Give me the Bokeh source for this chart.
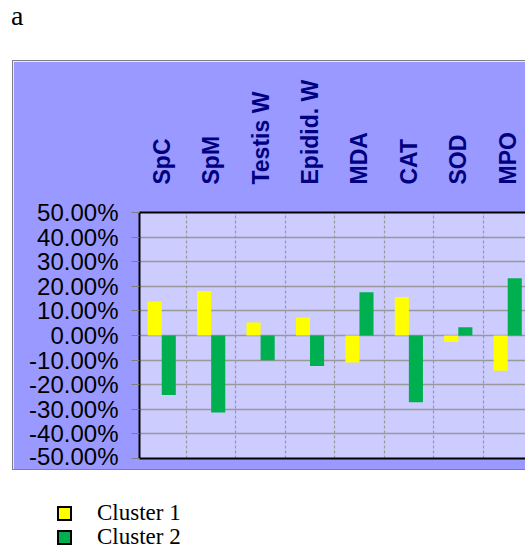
import math
from bokeh.plotting import figure
from bokeh.models import (ColumnDataSource, Range1d, LinearAxis, FixedTicker,
                          NumeralTickFormatter, Div)
from bokeh.transform import dodge
from bokeh.layouts import column
from bokeh.embed import file_html
from bokeh.resources import INLINE

# ---------------- data ----------------
categories = ["SpC", "SpM", "Testis W", "Epidid.  W", "MDA", "CAT", "SOD", "MPO"]
cluster1 = [0.137, 0.181, 0.053, 0.072, -0.110, 0.156, -0.026, -0.143]
cluster2 = [-0.242, -0.313, -0.101, -0.124, 0.176, -0.271, 0.034, 0.233]
series_names = ["Cluster 1", "Cluster 2"]
series_colors = ["#FFFF00", "#00B050"]
y_ticks = [-0.5, -0.4, -0.3, -0.2, -0.1, 0.0, 0.1, 0.2, 0.3, 0.4, 0.5]
panel_label = "a"

n = len(categories)
centers = [i + 0.5 for i in range(n)]
src = ColumnDataSource(dict(x=centers, c1=cluster1, c2=cluster2))

# ---------------- main figure ----------------
p = figure(width=513, height=410, output_backend="svg", toolbar_location=None,
           x_range=Range1d(0.05, 7.88), y_range=Range1d(-0.5, 0.5),
           x_axis_location="above",
           min_border_left=126, min_border_right=0, min_border_top=151,
           min_border_bottom=13)
p.margin = (0, 0, 0, 12)
p.styles = {"border-left": "1px solid #808080",
            "border-top": "1px solid #808080",
            "border-bottom": "1px solid #808080"}
p.background_fill_color = "#CCCCFF"
p.border_fill_color = "#9999FF"
p.outline_line_color = None

bw = 0.285
p.vbar(x=dodge("x", -bw / 2, range=p.x_range), top="c1", bottom=0, width=bw,
       source=src, fill_color=series_colors[0], line_color=None)
p.vbar(x=dodge("x", bw / 2, range=p.x_range), top="c2", bottom=0, width=bw,
       source=src, fill_color=series_colors[1], line_color=None)

# top axis with category names
xa = p.xaxis[0]
xa.ticker = FixedTicker(ticks=centers)
xa.major_label_overrides = {c: name for c, name in zip(centers, categories)}
xa.major_label_orientation = math.pi / 2
xa.major_label_text_font = "Liberation Sans"
xa.major_label_text_font_style = "bold"
xa.major_label_text_font_size = "23px"
xa.major_label_text_color = "#000080"
xa.major_label_standoff = 22
xa.major_tick_line_color = None
xa.minor_tick_line_color = None
xa.axis_line_color = "black"
xa.axis_line_width = 2

# bottom border axis
bottom_axis = LinearAxis(ticker=FixedTicker(ticks=[]), axis_line_color="black",
                         axis_line_width=2, major_tick_line_color=None,
                         minor_tick_line_color=None,
                         major_label_text_font_size="0px")
p.add_layout(bottom_axis, "below")

# left axis
ya = p.yaxis[0]
ya.ticker = FixedTicker(ticks=y_ticks)
ya.formatter = NumeralTickFormatter(format="0.00%")
ya.major_label_text_font = "Liberation Sans"
ya.major_label_text_font_size = "24px"
ya.major_label_text_color = "black"
ya.major_label_standoff = 13
ya.major_tick_line_color = "#808080"
ya.major_tick_out = 8
ya.major_tick_in = 0
ya.minor_tick_line_color = None
ya.axis_line_color = "black"
ya.axis_line_width = 2

# grids
p.ygrid.ticker = FixedTicker(ticks=y_ticks)
p.ygrid.grid_line_color = "#999999"
p.ygrid.grid_line_width = 1.3
p.xgrid.ticker = FixedTicker(ticks=list(range(1, n)))
p.xgrid.grid_line_color = "#999999"
p.xgrid.grid_line_width = 1.2
p.xgrid.grid_line_dash = "3 2"

# ---------------- panel label ----------------
top_div = Div(
    text=('<div style="position:relative;width:526px;height:60px;">'
          '<div style="position:absolute;left:11px;top:2px;'
          "font-family:'Liberation Serif';font-size:28px;line-height:28px;"
          'color:#000;">' + panel_label + '</div></div>'),
    width=526, height=60, margin=0)

# ---------------- legend ----------------
items = []
for k, (name, col) in enumerate(zip(series_names, series_colors)):
    top_sq = 36 + 24 * k
    top_tx = 30.5 + 24.3 * k
    items.append(
        f'<div style="position:absolute;left:57px;top:{top_sq}px;width:15px;'
        f'height:15px;box-sizing:border-box;border:2px solid #000;'
        f'background:{col};"></div>'
        f'<div style="position:absolute;left:97px;top:{top_tx}px;'
        f"font-family:'Liberation Serif';font-size:23px;line-height:23px;"
        f'color:#000;white-space:nowrap;">{name}</div>')
legend_div = Div(
    text='<div style="position:relative;width:300px;height:82px;">' + "".join(items) + '</div>',
    width=300, height=82, margin=0)

layout = column(top_div, p, legend_div, spacing=0)

open("out.html", "w").write(file_html(layout, INLINE))
